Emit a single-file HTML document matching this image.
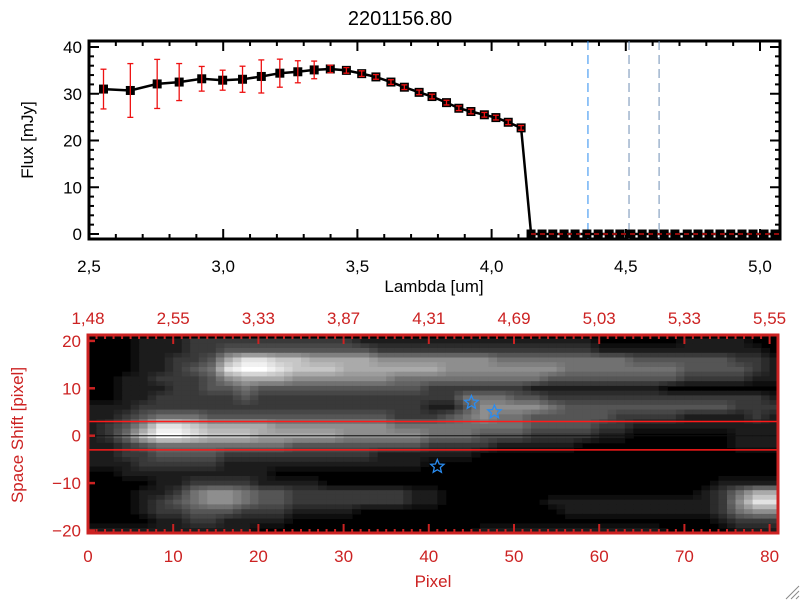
<!DOCTYPE html>
<html><head><meta charset="utf-8"><style>
html,body{margin:0;padding:0;background:#fff;}
svg{display:block;font-family:"Liberation Sans","DejaVu Sans",sans-serif;}
</style></head><body>
<svg id="c" width="800" height="600" viewBox="0 0 800 600"></svg>
<script>
// ---- Top spectrum data ----
const lambdas=[2.554,2.654,2.754,2.836,2.920,2.998,3.072,3.142,3.211,3.278,3.339,3.399,3.459,3.516,3.569,3.625,3.675,3.730,3.778,3.832,3.878,3.923,3.973,4.016,4.062,4.110,
4.147,4.188,4.228,4.270,4.311,4.355,4.397,4.438,4.478,4.519,4.561,4.602,4.643,4.683,4.729,4.769,4.810,4.851,4.891,4.933,4.974,5.015,5.056];
const flux=[31.0,30.7,32.1,32.5,33.2,32.9,33.1,33.7,34.4,34.7,35.1,35.3,35.0,34.3,33.6,32.5,31.4,30.3,29.4,28.1,26.9,26.2,25.5,24.9,23.9,22.7,
0,0,0,0,0,0,0,0,0,0,0,0,0,0,0,0,0,0,0,0,0,0,0];
const fluxErr=[4.25,5.75,5.25,3.96,2.64,2.14,2.79,3.54,3.0,2.36,1.89,0.8,0.6,0.6,0.5,0.5,0.5,0.5,0.5,0.5,0.5,0.5,0.5,0.5,0.5,0.5,
0,0,0,0,0,0,0,0,0,0,0,0,0,0,0,0,0,0,0,0,0,0,0];
const lineLambdas=[4.359,4.512,4.624];
const xTicksTop=["2.5","3.0","3.5","4.0","4.5","5.0"];
const yTicksTop=["0","10","20","30","40"];
// ---- Bottom image data ----
const pixTicks=["0","10","20","30","40","50","60","70","80"];
const lamTicks=["1.48","2.55","3.33","3.87","4.31","4.69","5.03","5.33","5.55"];
const shiftTicks=["20","10","0","-10","-20"];
const starX=[45,47.7,41];
const starY=[7,5,-6.5];
const rowY=[20,18,16,14,12,10,8,6,4,2,0,-2,-4,-6,-8,-10,-12,-14,-16,-18,-20];
const heat=[
"00011122222222221111111111111100000111100",
"00011122333333333222222222222211111111110",
"00011223688776666555555544444444333333221",
"00011234899877766666655555554444444333321",
"00112223566655555544444444433333333222211",
"00111223343333333333222222111111110000000",
"00112222232222222222224443322222222222221",
"11122222222222222222113555543333333333222",
"11234443333333333322234544333332222111121",
"12358876666555555544444444333322111111111",
"12479987776666655555444333222211000000111",
"11234444444433333333222211111000000000111",
"11223333222222222111111000000000000000000",
"11122222111111111111000000000000000000000",
"00111111111000000000000000000000000000000",
"00001122221111000000000000000000000001111",
"00011245543322222221100000000000000012466",
"00012345543322222221100000011111111112588",
"00012233322211110000000000001111111112455",
"00001122111100000000000000000000000001222",
"11111111110000000000000111111111110000111"];

const NS='http://www.w3.org/2000/svg';
const svgEl=document.getElementById('c');
function mk(tag,attrs,parent){const e=document.createElementNS(NS,tag);for(const k in attrs)e.setAttribute(k,attrs[k]);(parent||svgEl).appendChild(e);return e;}
function txt(s,x,y,attrs,parent){const t=mk('text',Object.assign({x:x,y:y},attrs),parent);t.textContent=s;return t;}

// ---- Top axes ----
const TX=v=>89+(v-2.5)*268.4;
const TY=v=>234-v*(234-47)/40;
const spec=mk('g',{});


const tt=txt('2201156.80',400,25,{'font-size':20,'text-anchor':'middle',fill:'#000'},spec);


const fr=mk('rect',{x:89,y:41,width:691,height:198,fill:'none',stroke:'#000','stroke-width':3},spec);


for(let i=0;i<=25;i++){const v=2.5+i*0.1;const x=TX(v);const L=(i%5==0)?10:5;
 mk('line',{x1:x,y1:239,x2:x,y2:239-L,stroke:'#000','stroke-width':2},spec);
 mk('line',{x1:x,y1:41,x2:x,y2:41+L,stroke:'#000','stroke-width':2},spec);}
xTicksTop.forEach(s=>{const t=txt(s.replace('.',','),TX(parseFloat(s)),272,{'font-size':17,'text-anchor':'middle'},spec);
 
 });
for(let i=0;i<=20;i++){const v=i*2;const y=TY(v);const L=(i%5==0)?10:5;
 mk('line',{x1:89,y1:y,x2:89+L,y2:y,stroke:'#000','stroke-width':2},spec);
 mk('line',{x1:780,y1:y,x2:780-L,y2:y,stroke:'#000','stroke-width':2},spec);}
yTicksTop.forEach(s=>{const t=txt(s,82,TY(parseFloat(s))+6,{'font-size':17,'text-anchor':'end'},spec);
 
 });
const xl=txt('Lambda [um]',434,292,{'font-size':17,'text-anchor':'middle'},spec);


const yl=txt('Flux [mJy]',0,0,{'font-size':17,'text-anchor':'middle',transform:'translate(33,140) rotate(-90)'},spec);


lineLambdas.forEach((v,i)=>{const l=mk('line',{x1:TX(v),y1:41,x2:TX(v),y2:239,stroke:i==0?'#2a8cf0':'#6f8fb5','stroke-width':1,'stroke-dasharray':'9,5'},spec);
 
 });
let d='';lambdas.forEach((v,i)=>{d+=(i?'L':'M')+TX(v).toFixed(1)+' '+TY(flux[i]).toFixed(1);});
const pl=mk('path',{d:d,fill:'none',stroke:'#000','stroke-width':2.5},spec);


lambdas.forEach((v,i)=>{const x=TX(v),y=TY(flux[i]);
 const r=mk('rect',{x:x-4.5,y:y-4.5,width:9,height:9,fill:'#000'},spec);
 
 });
lambdas.forEach((v,i)=>{if(!fluxErr[i])return;const x=TX(v);const y1=TY(flux[i]+fluxErr[i]),y2=TY(flux[i]-fluxErr[i]);
 const g=mk('g',{stroke:'#ee1111','stroke-width':1.3},spec);
 
 
 mk('line',{x1:x,y1:y1,x2:x,y2:y2},g);
 mk('line',{x1:x-3,y1:y1,x2:x+3,y2:y1},g);
 mk('line',{x1:x-3,y1:y2,x2:x+3,y2:y2},g);});
const zl=mk('line',{x1:TX(lambdas[26]),y1:TY(0),x2:780,y2:TY(0),stroke:'#ee1111','stroke-width':1.3,'stroke-dasharray':'5,4'},spec);



// ---- Bottom image ----
const RED='#cc2222';
const BX=v=>88+v*8.52;
const BY=v=>435.7-v*4.74;
const bot=mk('g',{});


const clip=mk('clipPath',{id:'bc'},bot);
mk('rect',{x:88,y:335,width:690,height:198},clip);
mk('rect',{x:88,y:335,width:690,height:198,fill:'#000'},bot);
const hg=mk('g',{'clip-path':'url(#bc)'},bot);


function hv(r,c){r=Math.max(0,Math.min(heat.length-1,r));const row=heat[r];c=Math.max(0,Math.min(row.length-1,c));return +row[c];}
// display each heat sample at 1-pixel resolution with bilinear smoothing between samples
for(let r2=0;r2<=2*(heat.length-1);r2++){for(let c2=0;c2<=2*(heat[0].length-1)+1;c2++){
 const rf=r2/2,cf=c2/2;const r0=Math.floor(rf),c0=Math.floor(cf),fr_=rf-r0,fc=cf-c0;
 const v=hv(r0,c0)*(1-fr_)*(1-fc)+hv(r0+1,c0)*fr_*(1-fc)+hv(r0,c0+1)*(1-fr_)*fc+hv(r0+1,c0+1)*fr_*fc;
 if(v<0.3)continue;const gv=Math.round(Math.min(9,v)/9*255);
 const yv=rowY[0]-r2;const xv=c2;
 const cell=mk('rect',{x:BX(xv).toFixed(1),y:BY(yv+0.5).toFixed(1),width:9,height:5.2,fill:`rgb(${gv},${gv},${gv})`},hg);
 
 }}
[3,-3].forEach(v=>{const l=mk('line',{x1:88,y1:BY(v),x2:778,y2:BY(v),stroke:'#ff1a1a','stroke-width':1.5},bot);
 
 });
const cl=mk('line',{x1:88,y1:BY(0),x2:778,y2:BY(0),stroke:'#111','stroke-width':1},bot);


function starPath(cx,cy,R){let p='';for(let k=0;k<10;k++){const a=-Math.PI/2+k*Math.PI/5;const rr=k%2?R*0.45:R;p+=(k?'L':'M')+(cx+rr*Math.cos(a)).toFixed(1)+' '+(cy+rr*Math.sin(a)).toFixed(1);}return p+'Z';}
starX.forEach((v,i)=>{const s=mk('path',{d:starPath(BX(v),BY(starY[i]),7),fill:'none',stroke:'#2a8cf0','stroke-width':1.3},bot);
 
 });
const bf=mk('rect',{x:88,y:335,width:690,height:198,fill:'none',stroke:RED,'stroke-width':3},bot);


for(let i=0;i<=81;i++){const x=BX(i);const L=(i%10==0)?9:4;
 mk('line',{x1:x,y1:533,x2:x,y2:533-L,stroke:RED,'stroke-width':2},bot);
 mk('line',{x1:x,y1:335,x2:x,y2:335+L,stroke:RED,'stroke-width':2},bot);}
[20,10,0,-10,-20].forEach(v=>{mk('line',{x1:88,y1:BY(v),x2:95,y2:BY(v),stroke:RED,'stroke-width':2.5},bot);});
pixTicks.forEach(s=>{const t=txt(s,BX(+s),562,{'font-size':17,'text-anchor':'middle',fill:RED},bot);
 
 });
lamTicks.forEach((s,i)=>{const t=txt(s.replace('.',','),BX(+pixTicks[i]),324,{'font-size':17,'text-anchor':'middle',fill:RED},bot);
 
 });
shiftTicks.forEach(s=>{const t=txt(s.replace('-','\u2212'),81,BY(+s)+6,{'font-size':17,'text-anchor':'end',fill:RED},bot);
 
 });
const px=txt('Pixel',433,587,{'font-size':17,'text-anchor':'middle',fill:RED},bot);


const sy=txt('Space Shift [pixel]',0,0,{'font-size':17,'text-anchor':'middle',fill:RED,transform:'translate(23,435) rotate(-90)'},bot);


const grip=mk('g',{stroke:'#888','stroke-width':1});


[0,5,10].forEach(o=>mk('line',{x1:786+o,y1:599,x2:799,y2:586+o},grip));
</script>
</body></html>
